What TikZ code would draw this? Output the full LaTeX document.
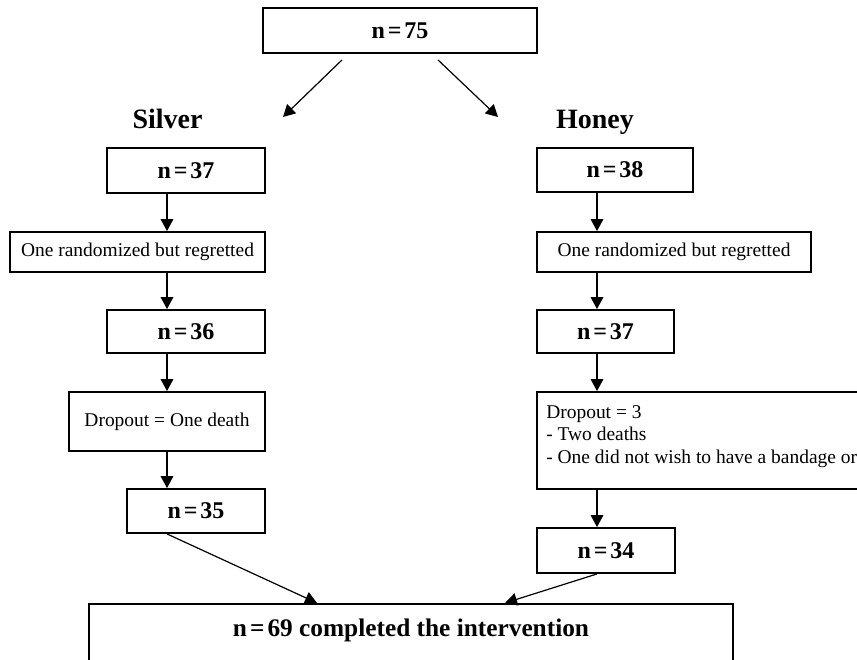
\documentclass[tikz,border=0pt]{standalone}
\usepackage{fontspec}
\setmainfont{Liberation Serif}
\usetikzlibrary{arrows.meta, positioning}
\def\px{0.75pt}
\newcommand{\eqsp}{\hspace{0.12em}=\hspace{0.12em}}

\begin{document}
\begin{tikzpicture}[x=0.75pt, y=-0.75pt,
  box/.style={draw, line width=1.4pt, inner sep=0pt},
  countbox/.style={box, font=\fontsize{18}{21}\selectfont\bfseries},
  notebox/.style={box, font=\fontsize{14.6}{17}\selectfont},
  armlabel/.style={font=\fontsize{21}{25}\selectfont\bfseries, anchor=base},
  flow/.style={-{Triangle[length=9pt,width=9.5pt]}, line width=0.9pt}]
\useasboundingbox (0,0) rectangle (857,660);
\clip (0,0) rectangle (857,660);

% column axes
\coordinate (axL) at (167,0);
\coordinate (axR) at (597,0);

% top
\node[countbox, minimum width=274*\px, minimum height=45*\px] (all) at (400,30.5) {n\eqsp75};
\coordinate (toS) at (283,117);
\coordinate (toH) at (498,117);
\draw[flow] ([shift={(-58,6)}]all.south) -- (toS);
\draw[flow] ([shift={(38,6)}]all.south) -- (toH);

\node[armlabel] (silver) at (167.5,128) {Silver};
\node[armlabel] (honey) at (595,128) {Honey};

% Silver arm
\node[countbox, minimum width=158*\px, minimum height=45*\px] (s1) at (186,170.5) {n\eqsp37};
\node[notebox, minimum width=255*\px, minimum height=40*\px] (s2) at (137.5,252) {One randomized but regretted};
\node[countbox, minimum width=158*\px, minimum height=43*\px] (s3) at (186,331.5) {n\eqsp36};
\node[notebox, minimum width=196*\px, minimum height=59*\px] (s4) at (167,421.5) {Dropout = One death};
\node[countbox, minimum width=138*\px, minimum height=44*\px] (s5) at (196,511) {n\eqsp35};

\draw[flow] (s1.south -| axL) -- (s2.north -| axL);
\draw[flow] (s2.south -| axL) -- (s3.north -| axL);
\draw[flow] (s3.south -| axL) -- (s4.north -| axL);
\draw[flow] (s4.south -| axL) -- (s5.north -| axL);

% Honey arm
\node[countbox, minimum width=156*\px, minimum height=44*\px] (h1) at (615,170) {n\eqsp38};
\node[notebox, minimum width=274*\px, minimum height=40*\px] (h2) at (674,252) {One randomized but regretted};
\node[countbox, minimum width=137*\px, minimum height=43*\px] (h3) at (605.5,331.5) {n\eqsp37};
\node[box, minimum width=363*\px, minimum height=97*\px] (h4) at (718.5,440.5) {};
\node[font=\fontsize{14.6}{16.9}\selectfont, align=left, anchor=north west, inner sep=0pt] (h4text) at (546,405)
  {Dropout = 3\\- Two deaths\\- One did not wish to have a bandage or};
\node[countbox, minimum width=138*\px, minimum height=45*\px] (h5) at (606,550.5) {n\eqsp34};

\draw[flow] (h1.south -| axR) -- (h2.north -| axR);
\draw[flow] (h2.south -| axR) -- (h3.north -| axR);
\draw[flow] (h3.south -| axR) -- (h4.north -| axR);
\draw[flow] (h4.south -| axR) -- (h5.north -| axR);

% bottom
\node[box, minimum width=644*\px, minimum height=120*\px, anchor=north] (done) at (411,603) {};
\node[font=\fontsize{19}{22}\selectfont\bfseries] (donetext) at (411,630) {n\eqsp69 completed the intervention};
\draw[flow] (s5.south -| axL) -- ([xshift=-94*\px]done.north);
\draw[flow] (h5.south -| axR) -- ([xshift=94*\px]done.north);
\end{tikzpicture}
\end{document}
